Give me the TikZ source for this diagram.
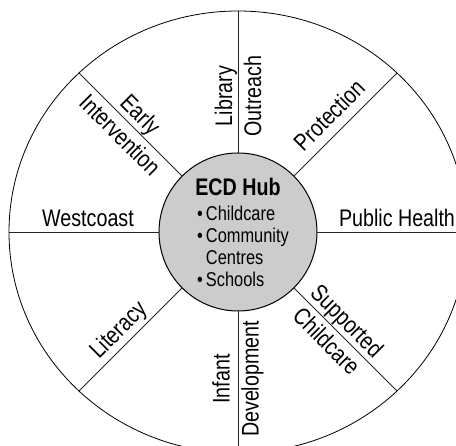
\documentclass[tikz,border=0pt]{standalone}
\usepackage{fontspec}
\setmainfont[FakeStretch=0.82]{Liberation Sans}
\usepackage{tikz}
\tikzset{
  hub/.style={circle, draw, fill=black!20, line width=1pt,
    minimum size=158pt, inner sep=0pt, outer sep=0pt},
  spoke/.style={line width=0.9pt, black!85},
  sector/.style={font=\fontsize{24}{29}\selectfont, align=center, inner sep=0pt}
}

\begin{document}
\begin{tikzpicture}[x=1pt,y=1pt]
    \useasboundingbox (-238,-214) rectangle (218,232);
    \clip (-238,-214) rectangle (218,232);
    % the wheel
    \node[hub] (hub) at (0,0) {};
    \begin{scope}
      \clip (0,0) ellipse[x radius=229, y radius=221];
      \foreach \a in {0,45,...,315}
        \draw[spoke] (hub.\a) -- (\a:300);
    \end{scope}
    \draw[line width=0.8pt] (0,0) ellipse[x radius=229, y radius=221];
    % sectors
    \node[sector, anchor=base] (westcoast) at (-150,5) {Westcoast};
    \node[sector, anchor=base] (health) at (159,5) {Public Health};
    \node[sector, rotate=90] (library) at (0,136) {Library\\Outreach};
    \node[sector, rotate=90] (infant) at (0,-147) {Infant\\Development};
    \node[sector, rotate=-45] (early) at (135:152) {Early\\Intervention};
    \node[sector, rotate=-45] (supported) at (-45:140) {Supported\\Childcare};
    \node[sector, rotate=45] (protection) at (91,117) {Protection};
    \node[sector, rotate=45] (literacy) at (-119,-99) {Literacy};
    % hub text
    \node[anchor=base, font=\bfseries\fontsize{24}{29}\selectfont] (title) at (0,36) {ECD Hub};
    \node[anchor=base west, inner sep=0pt, font=\fontsize{20}{22}\selectfont] (services) at (-41,11)
      {\begin{tabular}[t]{@{}l@{\hspace{3pt}}l@{}}
        •&Childcare\\
        •&Community\\
        &Centres\\
        •&Schools
      \end{tabular}};
\end{tikzpicture}
\end{document}
